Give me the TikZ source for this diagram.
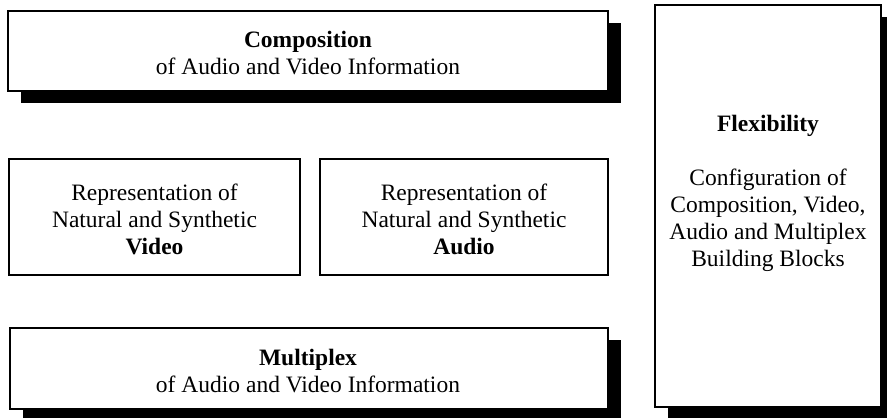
\documentclass[tikz,border=0pt]{standalone}
\usepackage{fontspec}
\setmainfont{Liberation Serif}
\usetikzlibrary{shadows}
\begin{document}
\begin{tikzpicture}[x=1pt, y=-1pt,
  box/.style={draw=black, line width=2.2pt, fill=white, inner sep=0pt},
  shadowed/.style={drop shadow={shadow xshift=12.5pt, shadow yshift=-12pt,
                   fill=black, opacity=1}},
  caption/.style={align=center, inner sep=0pt, anchor=base,
                  font=\fontsize{23.5}{27}\selectfont}]
  \useasboundingbox (0,0) rectangle (887,418);
  \clip (0,0) rectangle (887,418);

  % layer boxes
  \node[box, shadowed, minimum width=600pt, minimum height=80pt]  (comp)  at (308,51)    {};
  \node[box, minimum width=291pt, minimum height=116pt]           (video) at (154.5,217) {};
  \node[box, minimum width=288pt, minimum height=116pt]           (audio) at (464,217)   {};
  \node[box, shadowed, minimum width=598pt, minimum height=81pt]  (mux)   at (309,368.5) {};
  \node[box, shadowed, minimum width=226pt, minimum height=402pt] (flex)  at (768,206)   {};

  % box texts (anchored at the baseline of their last line)
  \node[caption] (comp-text)  at (308,74)    {\textbf{Composition}\\of Audio and Video Information};
  \node[caption] (video-text) at (154.5,254) {Representation of\\Natural and Synthetic\\\textbf{Video}};
  \node[caption] (audio-text) at (464,254)   {Representation of\\Natural and Synthetic\\\textbf{Audio}};
  \node[caption] (mux-text)   at (308,392)   {\textbf{Multiplex}\\of Audio and Video Information};
  \node[caption] (flex-text)  at (768,266)   {\textbf{Flexibility}\\[27pt]Configuration of\\Composition, Video,\\Audio and Multiplex\\Building Blocks};
\end{tikzpicture}
\end{document}
